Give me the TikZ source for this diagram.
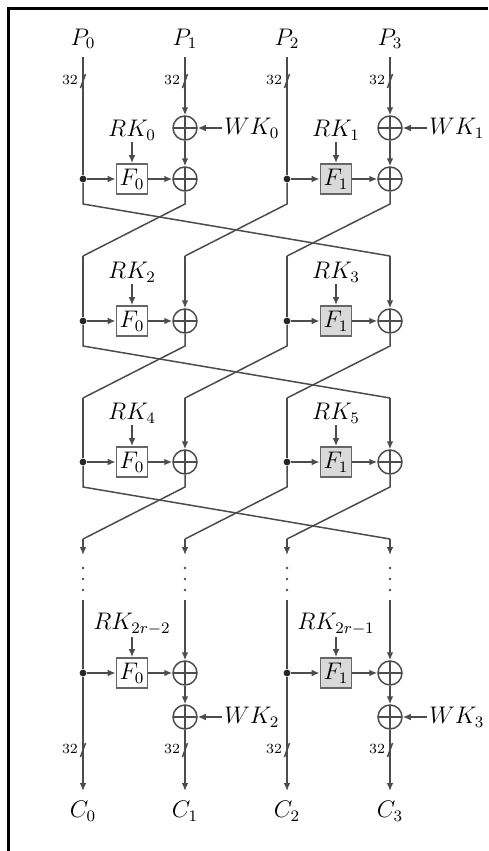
\documentclass[tikz,border=0pt]{standalone}
\usetikzlibrary{arrows.meta}

\tikzset{
    wire/.style={draw=black!70, line width=0.75pt},
    arr/.style={wire, -{Latex[length=4pt,width=3.4pt]}},
    lbl/.style={font=\fontsize{12}{14}\selectfont, inner sep=1pt},
    fbox/.style={draw=black!60, line width=0.9pt, fill=white, minimum width=15.5pt, minimum height=15pt, inner sep=0pt, font=\fontsize{12}{14}\selectfont},
    jdot/.style={circle, fill=black!85, minimum size=3.4pt, inner sep=0pt},
    xorc/.style={circle, draw=black!70, line width=0.75pt, minimum size=12pt, inner sep=0pt,
        path picture={\draw[black!70, line width=0.75pt]
            (path picture bounding box.north) -- (path picture bounding box.south)
            (path picture bounding box.west) -- (path picture bounding box.east);}},
}

\begin{document}
\begin{tikzpicture}[x=0.5pt, y=-0.5pt]
        \useasboundingbox (0,0) rectangle (488,851);
        % Ramme
        \draw[line width=1.5pt] (8.5,851) -- (8.5,8.5) -- (488,8.5);

        % Inn- og utgangar
        \foreach \i/\x in {0/83,1/185,2/287,3/390} {
            \node[lbl, anchor=south, inner ysep=4pt] (P\i) at (\x,57) {$P_\i$};
            \node[lbl, anchor=north, inner ysep=5pt] (C\i) at (\x,791) {$C_\i$};
        }

        % Bussbreidd
        \foreach \x in {83,185,287,390} {
            \foreach \y in {81,750} {
                \draw[wire] (\x-2.5,\y+7) -- (\x+2.5,\y-7);
                \node[font=\scriptsize, inner sep=0pt] (bw-\x-\y) at (\x-13,\y-1) {32};
            }
        }

        % Whitening inn
        \node[xorc] (wB0) at (185,128) {};
        \node[xorc] (wD0) at (390,128) {};
        \node[lbl, anchor=west] (WK0) at (222,128) {$WK_0$};
        \node[lbl, anchor=west] (WK1) at (427,128) {$WK_1$};
        \draw[arr] (WK0) -- (wB0);
        \draw[arr] (WK1) -- (wD0);
        \draw[arr] (P1) -- (wB0);
        \draw[arr] (P3) -- (wD0);

        % Rundar
        \foreach \r/\y/\ka/\kb in {1/179/0/1, 2/321/2/3, 3/462/4/5, 4/673/{2r-2}/{2r-1}} {
            \node[jdot] (jA\r) at (83,\y) {};
            \node[jdot] (jC\r) at (287,\y) {};
            \node[fbox] (FA\r) at (132,\y) {$F_0$};
            \node[fbox, fill=black!15] (FC\r) at (336,\y) {$F_1$};
            \node[xorc] (xB\r) at (185,\y) {};
            \node[xorc] (xD\r) at (390,\y) {};
            \node[lbl] (RKA\r) at (132,\y-49) {$RK_{\ka}$};
            \node[lbl] (RKC\r) at (336,\y-49) {$RK_{\kb}$};
            \draw[arr] (RKA\r) -- (FA\r);
            \draw[arr] (RKC\r) -- (FC\r);
            \draw[arr] (jA\r) -- (FA\r);
            \draw[arr] (jC\r) -- (FC\r);
            \draw[arr] (FA\r) -- (xB\r);
            \draw[arr] (FC\r) -- (xD\r);
        }

        % Kryssing mellom rundane
        \foreach \r/\y in {1/179, 2/321, 3/462} {
            \foreach \c/\x in {A/83, B/185, C/287, D/390} {
                \coordinate (s\c\r) at (\x,\y+25);
                \coordinate (t\c\r) at (\x,\y+77);
            }
            \draw[wire] (jA\r) -- (sA\r) -- (tD\r);
            \draw[wire] (xB\r) -- (sB\r) -- (tA\r);
            \draw[wire] (jC\r) -- (sC\r) -- (tB\r);
            \draw[wire] (xD\r) -- (sD\r) -- (tC\r);
        }

        % Inn til runde 1
        \draw[wire] (P0) -- (jA1);
        \draw[wire] (P2) -- (jC1);
        \draw[arr] (wB0) -- (xB1);
        \draw[arr] (wD0) -- (xD1);

        % Runde 2 og 3
        \foreach \p/\r in {1/2, 2/3} {
            \draw[wire] (tA\p) -- (jA\r);
            \draw[arr] (tB\p) -- (xB\r);
            \draw[wire] (tC\p) -- (jC\r);
            \draw[arr] (tD\p) -- (xD\r);
        }

        % Prikkar
        \foreach \c/\x in {A/83, B/185, C/287, D/390} {
            \coordinate (e\c) at (\x,555);
            \coordinate (u\c) at (\x,600);
            \draw[arr] (t\c3) -- (e\c);
            \foreach \y in {568,579,590}
                \fill[black!70] (\x,\y) circle (0.7pt);
        }

        % Siste runde og whitening ut
        \node[xorc] (wB4) at (185,717) {};
        \node[xorc] (wD4) at (390,717) {};
        \node[lbl, anchor=west] (WK2) at (222,717) {$WK_2$};
        \node[lbl, anchor=west] (WK3) at (427,717) {$WK_3$};
        \draw[arr] (WK2) -- (wB4);
        \draw[arr] (WK3) -- (wD4);
        \draw[wire] (uA) -- (jA4);
        \draw[arr] (jA4) -- (C0);
        \draw[arr] (uB) -- (xB4);
        \draw[arr] (xB4) -- (wB4);
        \draw[arr] (wB4) -- (C1);
        \draw[wire] (uC) -- (jC4);
        \draw[arr] (jC4) -- (C2);
        \draw[arr] (uD) -- (xD4);
        \draw[arr] (xD4) -- (wD4);
        \draw[arr] (wD4) -- (C3);
    \end{tikzpicture}
\end{document}
